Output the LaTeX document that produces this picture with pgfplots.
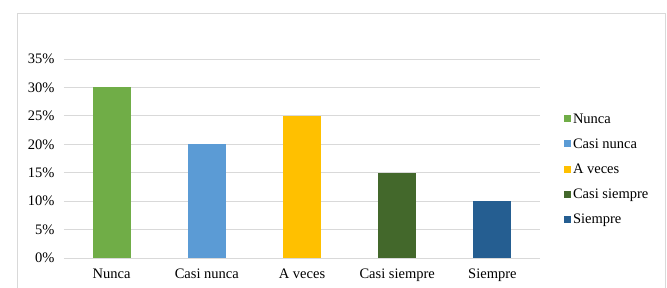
\documentclass[border=0pt]{standalone}
\usepackage{fontspec}
\setmainfont{Liberation Serif}
\usepackage{pgfplots}
\pgfplotsset{compat=1.18}
\definecolor{cNunca}{HTML}{70AD47}
\definecolor{cCasiNunca}{HTML}{5B9BD5}
\definecolor{cAVeces}{HTML}{FFC000}
\definecolor{cCasiSiempre}{HTML}{43682B}
\definecolor{cSiempre}{HTML}{255E91}
\definecolor{gridc}{HTML}{D9D9D9}
\begin{document}
\begin{tikzpicture}
\useasboundingbox (0pt,0pt) rectangle (667pt,287pt);
\fill[white] (0pt,0pt) rectangle (667pt,287pt);
\draw[gridc, line width=0.8pt] (17pt,-5pt) rectangle (665.5pt,274pt);
\begin{axis}[
  at={(64pt,29pt)}, anchor=south west,
  scale only axis, width=476pt, height=199pt,
  xmin=-0.5, xmax=4.5, ymin=0, ymax=35,
  ybar, bar width=38pt, bar shift=0pt,
  xtick={0,1,2,3,4},
  xticklabels={Nunca, Casi nunca, A veces, Casi siempre, Siempre},
  ytick={0,5,...,35},
  yticklabel={\pgfmathprintnumber{\tick}\%},
  /pgf/number format/assume math mode=true,
  tick style={draw=none},
  axis line style={draw=none},
  ymajorgrids, grid style={gridc, line width=0.8pt},
  ticklabel style={font=\fontsize{14.5}{16}\selectfont},
  yticklabel style={xshift=-6pt},
  xticklabel style={yshift=-3.5pt},
  legend style={draw=none, at={(1.05,0.735)}, anchor=north west,
    font=\fontsize{14.5}{16}\selectfont, row sep=10pt,
    cells={anchor=west}, inner sep=0pt},
  legend image code/.code={\fill[#1] (0pt,-3pt) rectangle (7pt,4pt);},
  legend cell align=left,
]
\addplot[fill=cNunca, draw=none] coordinates {(0,30)};
\addplot[fill=cCasiNunca, draw=none] coordinates {(1,20)};
\addplot[fill=cAVeces, draw=none] coordinates {(2,25)};
\addplot[fill=cCasiSiempre, draw=none] coordinates {(3,15)};
\addplot[fill=cSiempre, draw=none] coordinates {(4,10)};
\legend{Nunca, Casi nunca, A veces, Casi siempre, Siempre}
\end{axis}
\end{tikzpicture}
\end{document}
